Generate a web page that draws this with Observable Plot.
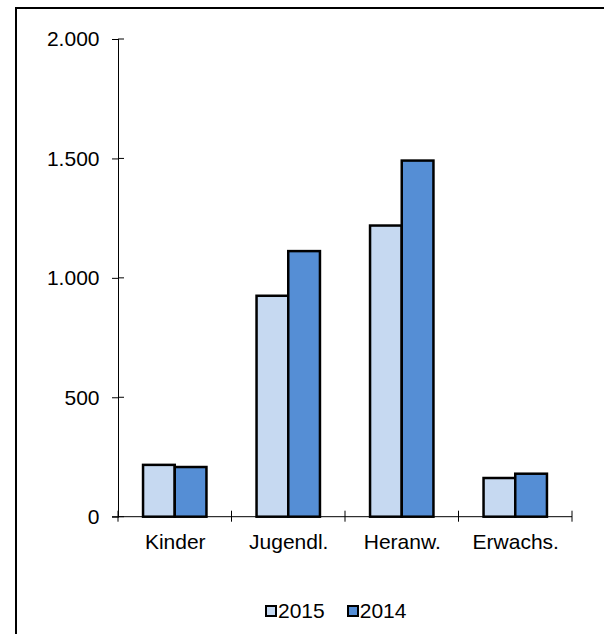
<!DOCTYPE html>
<html>
<head>
<meta charset="utf-8">
<script src="https://cdn.jsdelivr.net/npm/d3@7"></script>
<script src="https://cdn.jsdelivr.net/npm/@observablehq/plot@0.6"></script>
<style>
  html, body { margin: 0; padding: 0; background: #fff; }
  body { width: 604px; height: 634px; overflow: hidden; position: relative;
         font-family: "Liberation Sans", Arial, sans-serif; }
  #frame { position: absolute; left: 15px; top: 7px; width: 700px; height: 700px;
           border-left: 2px solid #000; border-top: 2px solid #000; box-sizing: border-box; }
  #chart { position: absolute; left: 0; top: 0; }
  #chart svg text { font-family: "Liberation Sans", Arial, sans-serif; font-size: 21px; fill: #000; }
  #legend { position: absolute; left: 265px; top: 599px; height: 24px; display: flex; align-items: center;
            font-size: 21px; color: #000; }
  .item { display: flex; align-items: center; margin-right: 22px; }
  .sw { width: 12px; height: 12px; border: 2px solid #000; box-sizing: border-box; margin-right: 1px; }
</style>
</head>
<body>
<div id="frame"></div>
<div id="chart"></div>
<div id="legend"></div>
<script>
const categories = ["Kinder", "Jugendl.", "Heranw.", "Erwachs."];
const seriesNames = ["2015", "2014"];
const values2015 = [217, 925, 1219, 162];
const values2014 = [208, 1112, 1491, 180];
const yTicks = [0, 500, 1000, 1500, 2000];
const yTickLabels = ["0", "500", "1.000", "1.500", "2.000"];
const seriesColors = ["#c6d9f1", "#558ed5"];

const data = categories.flatMap((c, i) => [
  {category: c, series: seriesNames[0], value: values2015[i]},
  {category: c, series: seriesNames[1], value: values2014[i]}
]);

const plot = Plot.plot({
  width: 604,
  height: 590,
  marginLeft: 118,
  marginRight: 32,
  marginTop: 39,
  marginBottom: 73.3,
  style: {background: "transparent", fontFamily: "Liberation Sans, Arial, sans-serif", fontSize: "21px", color: "#000", overflow: "visible"},
  facet: {data, x: "category"},
  fx: {domain: categories, paddingInner: 0, paddingOuter: 0, round: false, axis: "bottom",
       tickSize: 0, tickPadding: 17, label: null},
  x: {domain: seriesNames, paddingInner: 0, paddingOuter: 0.79, round: false, axis: null},
  y: {domain: [0, 2000], ticks: yTicks, tickFormat: d => yTickLabels[yTicks.indexOf(d)],
      tickSize: 6, tickPadding: 13, line: true, label: null},
  color: {domain: seriesNames, range: seriesColors},
  marks: [
    Plot.barY(data, {x: "series", y: "value", fill: "series", stroke: "#000", strokeWidth: 2.5})
  ]
});
document.getElementById("chart").appendChild(plot);

// axis decorations drawn from Plot's own scales
const fxs = plot.scale("fx");
const ys = plot.scale("y");
const fxPos = c => fxs.apply ? fxs.apply(c) : fxs.range[0] + categories.indexOf(c) * fxs.step;
const bw = fxs.bandwidth;
const yZero = ys.apply(0);
const bounds = categories.map(fxPos).concat([fxPos(categories[categories.length - 1]) + bw]);
const xLeft = bounds[0];
const g = d3.select(plot).append("g").attr("stroke", "#000").attr("stroke-width", 1).attr("fill", "none");
g.append("line").attr("x1", xLeft - 6).attr("x2", bounds[bounds.length - 1]).attr("y1", yZero).attr("y2", yZero);
bounds.forEach(b => g.append("line").attr("x1", b).attr("x2", b).attr("y1", yZero - 6).attr("y2", yZero + 5));
yTicks.forEach(t => g.append("line").attr("x1", xLeft).attr("x2", xLeft + 6).attr("y1", ys.apply(t)).attr("y2", ys.apply(t)));

// legend
const legend = d3.select("#legend");
seriesNames.forEach((s, i) => {
  const it = legend.append("div").attr("class", "item");
  it.append("div").attr("class", "sw").style("background", seriesColors[i]);
  it.append("span").text(s);
});
</script>
</body>
</html>
